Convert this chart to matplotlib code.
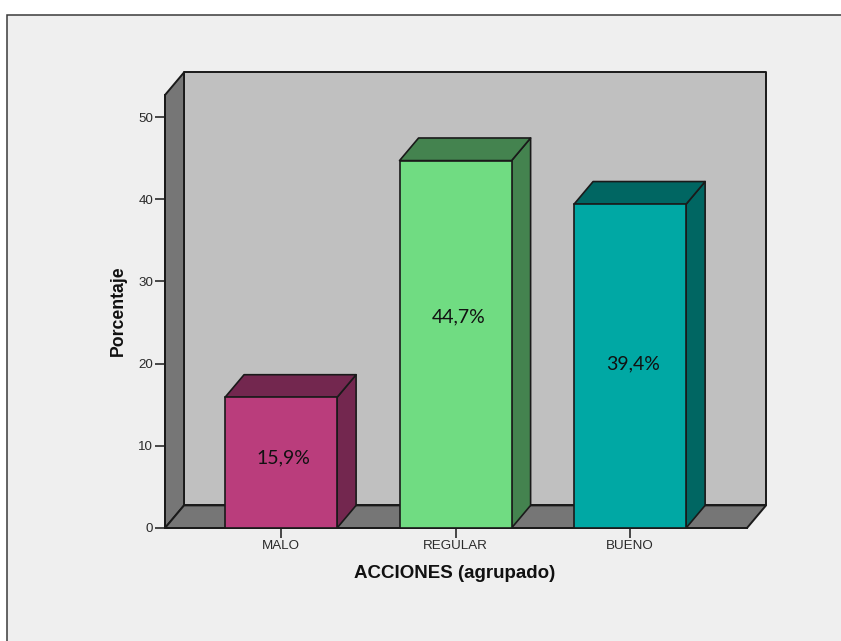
# Porcentaje por nivel de ACCIONES, barras con efecto 3D
import matplotlib
matplotlib.use('Agg')
import matplotlib.pyplot as plt
from matplotlib.patches import Polygon, Rectangle

categories = ['MALO', 'REGULAR', 'BUENO']
percent = [15.9, 44.7, 39.4]
value_labels = ['15,9%', '44,7%', '39,4%']
label_heights = [8.5, 25.7, 20.0]
front_colors = ['#BA3D7C', '#70DC82', '#00A8A4']
top_colors = ['#73274F', '#44834F', '#006662']
yticks = [0, 10, 20, 30, 40, 50]

W, H = 841, 641
fig = plt.figure(figsize=(W / 100, H / 100), dpi=100, facecolor='white')

# marco gris claro del grafico, se corta por la derecha y por abajo
fig.add_artist(Rectangle((7 / W, -0.02), 1, 1.02 - 14.5 / H, transform=fig.transFigure,
                         facecolor='#EFEFEF', edgecolor='#3A3A3A', linewidth=1.1, zorder=-1))

# el eje coincide con la cara frontal de la caja
ax = fig.add_axes([165 / W, 1 - 528 / H, (747 - 165) / W, (528 - 95) / H])
ax.set_xlim(-0.665, 2.67)
ax.set_ylim(0, 52.68)
ax.patch.set_visible(False)

dx = 0.109  # profundidad en x
dy = 2.75   # profundidad en y
x0, x1 = ax.get_xlim()
y0, y1 = ax.get_ylim()
edge = '#1A1A1A'


def face(pts, color, lw=1.4, z=1):
    ax.add_patch(Polygon(pts, closed=True, facecolor=color, edgecolor=edge,
                         linewidth=lw, zorder=z, clip_on=False, joinstyle='round'))


# paredes de la caja
face([(x0 + dx, y0 + dy), (x1 + dx, y0 + dy), (x1 + dx, y1 + dy), (x0 + dx, y1 + dy)], '#C0C0C0')
face([(x0, y0), (x0 + dx, y0 + dy), (x0 + dx, y1 + dy), (x0, y1)], '#767676')
face([(x0, y0), (x1, y0), (x1 + dx, y0 + dy), (x0 + dx, y0 + dy)], '#767676')

# barras
width = 0.642
for i, v in enumerate(percent):
    l, r = i - width / 2, i + width / 2
    face([(r, 0), (r + dx, dy), (r + dx, v + dy), (r, v)], top_colors[i], 1.2, 3)
    face([(l, v), (r, v), (r + dx, v + dy), (l + dx, v + dy)], top_colors[i], 1.2, 3)
    ax.bar(i, v, width=width, color=front_colors[i], edgecolor=edge, linewidth=1.2, zorder=4)
    ax.text(i + 0.015, label_heights[i], value_labels[i], ha='center', va='center',
            fontsize=14, family='Lato', color='#111111', zorder=5)

for s in ['top', 'right']:
    ax.spines[s].set_visible(False)
for s in ['left', 'bottom']:
    ax.spines[s].set_color(edge)
    ax.spines[s].set_linewidth(1.4)
    ax.spines[s].set_zorder(2)

ax.set_xticks(range(len(categories)))
ax.set_xticklabels(categories)
ax.set_yticks(yticks)
ax.tick_params(axis='both', length=7, width=1.2, color='#2A2A2A', labelcolor='#2A2A2A',
               labelsize=9.6, pad=1.5)
for t in ax.get_xticklabels() + ax.get_yticklabels():
    t.set_family('Liberation Sans')

ax.set_xlabel('ACCIONES (agrupado)', fontsize=13.5, fontweight='bold', family='Liberation Sans',
              color='#111111')
ax.xaxis.set_label_coords((455 - 165) / (747 - 165), -(573 - 528) / (528 - 95))
ax.xaxis.label.set_va('center')
ax.set_ylabel('Porcentaje', fontsize=12.7, fontweight='bold', family='Liberation Sans',
              color='#111111')
ax.yaxis.set_label_coords(-(165 - 118) / (747 - 165), (528 - 311) / (528 - 95))
ax.yaxis.label.set_va('center')

fig.savefig('out.png', dpi=100, facecolor='white')
